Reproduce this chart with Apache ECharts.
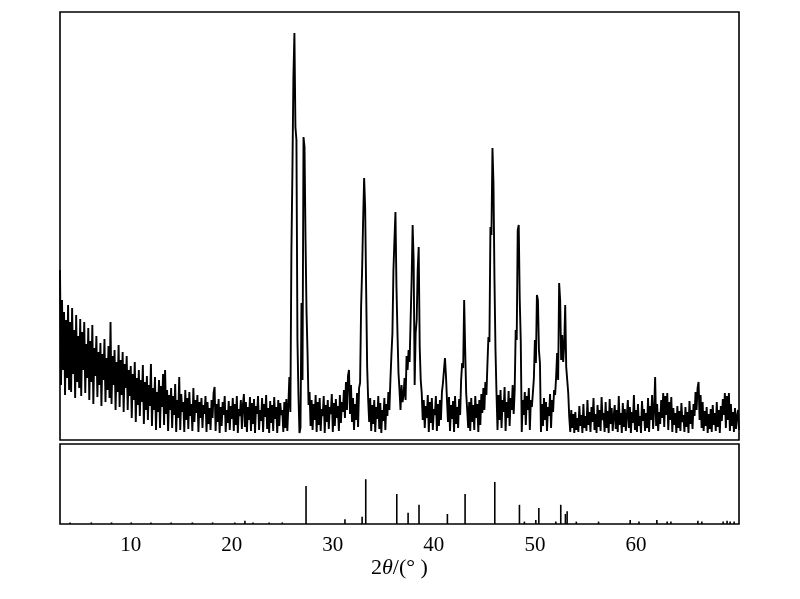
<!DOCTYPE html>
<html>
<head>
<meta charset="utf-8">
<script src="https://cdn.jsdelivr.net/npm/echarts@6/dist/echarts.min.js"></script>
<style>html,body{margin:0;padding:0;background:#fff}#c{width:800px;height:599px}</style>
</head>
<body>
<div id="c"></div>
<script>
// Measured XRD scan: 2theta from 3.0 deg in 0.1 deg steps (intensity, a.u.)
const scanStart = 3.0;
const scanStep = 0.1;
const intensity = [
 170,55,140,70,128,45,120,62,135,50,
 118,48,132,66,110,42,125,58,104,52,
 121,44,108,70,118,47,96,62,112,40,
 99,58,115,36,92,64,104,43,88,55,
 97,34,86,60,101,38,82,50,94,42,
 118,36,84,55,90,30,78,48,95,33,
 80,45,88,28,76,52,84,30,70,44,
 74,22,66,40,78,18,62,35,70,24,
 60,38,75,16,58,30,64,20,55,34,
 76,14,52,30,63,10,48,28,60,12,
 54,33,66,15,70,26,50,9,45,30,
 52,12,44,25,56,8,40,22,63,10,
 46,28,38,8,50,20,42,11,48,24,
 36,9,52,18,40,27,45,8,38,22,
 42,12,35,26,44,8,38,16,32,10,
 40,22,47,53,9,36,18,41,7,33,
 14,38,25,44,8,30,17,39,10,34,
 21,42,9,36,15,44,7,31,24,40,
 11,35,46,13,38,8,33,20,43,9,
 37,16,41,7,34,26,44,10,30,19,
 42,8,36,23,45,11,32,7,39,17,
 35,9,43,21,33,7,40,14,37,25,
 30,8,38,12,41,9,35,63,28,187,
 267,363,407,313,300,100,45,7,12,137,
 60,303,293,200,127,87,35,48,14,40,
 10,36,20,45,8,38,15,42,9,31,
 24,44,7,35,18,40,11,33,26,46,
 8,37,14,41,22,34,9,45,17,38,
 28,50,22,58,30,64,70,26,55,18,
 42,10,36,20,47,13,52,57,133,170,
 220,262,233,150,73,40,18,42,9,35,
 16,40,8,33,21,44,11,37,7,30,
 19,42,10,36,24,48,30,60,85,107,
 170,200,228,153,107,67,50,30,55,38,
 45,62,40,84,70,90,78,120,160,215,
 180,55,107,120,170,193,93,60,47,20,
 40,12,34,22,45,8,38,17,42,10,
 31,25,44,9,36,14,40,20,48,57,
 70,82,64,40,18,43,9,35,21,39,
 8,44,16,33,12,41,25,60,77,72,
 140,90,47,30,12,38,9,42,18,35,
 10,44,22,36,8,40,15,46,27,52,
 30,58,45,75,103,98,213,205,292,257,
 160,90,47,10,45,20,50,12,40,28,
 53,9,38,22,49,14,42,30,55,26,
 50,110,100,210,215,140,100,8,40,25,
 48,15,44,30,52,10,40,33,47,62,
 100,77,145,140,90,77,8,36,14,42,
 20,38,9,33,24,46,12,40,28,50,
 45,63,87,60,157,140,80,105,78,95,
 135,73,60,47,23,8,30,12,26,7,
 28,10,22,8,34,14,25,7,36,12,
 24,9,40,15,28,8,33,18,42,10,
 26,7,35,13,30,9,43,20,27,8,
 38,12,29,7,41,16,32,9,24,35,
 11,30,8,44,15,27,7,37,13,31,
 9,25,40,12,33,7,28,17,45,10,
 30,8,36,14,24,7,39,19,31,9,
 27,12,42,8,34,20,45,11,30,63,
 14,36,9,28,16,40,22,47,13,44,
 25,47,10,38,20,43,8,32,15,27,
 7,34,12,29,9,37,18,25,8,33,
 13,28,7,39,16,30,11,36,24,48,
 30,52,58,20,45,12,38,9,29,14,
 33,7,26,11,31,8,35,15,27,9,
 38,13,30,7,34,19,41,25,47,12,
 44,20,47,9,36,14,28,8,32,11,
 24,30,10
];

// Reference pattern sticks (2theta, relative intensity)
const refPos = [4.0,6.1,8.1,10.05,12.0,14.0,16.1,18.1,20.3,21.3,22.1,23.7,25.0,
  27.35,31.2,32.9,33.26,36.33,37.45,38.53,41.34,43.09,46.03,48.47,48.96,50.09,50.39,
  52.07,52.56,53.02,53.19,54.1,56.3,59.43,60.3,62.07,63.09,63.46,66.13,66.52,68.63,69.02,69.32,69.72];
const refInt = [2,2,2,2,2,2,2,2,2,4,2,2,2,
  47.5,6,9,56,37.5,14,24,12.5,37.5,52.5,24,3,5,20,
  3,24,12.5,16,3,3,5,3,5,3,3,4,3,3,4,3,3];

const xTicks = [10,20,30,40,50,60];
const xMin = 3.0, xMax = 70.2;

const scan = intensity.map((v, i) => [+(scanStart + i * scanStep).toFixed(2), v]);
const sticks = refPos.map((p, i) => [p, refInt[i]]);

const chart = echarts.init(document.getElementById('c'), null, {renderer: 'canvas'});
const serif = 'Liberation Serif, Times New Roman, serif';
chart.setOption({
  animation: false,
  backgroundColor: '#fff',
  grid: [
    {left: 60, right: 61, top: 12, height: 428, show: true, borderColor: '#000', borderWidth: 1.6, backgroundColor: 'transparent'},
    {left: 60, right: 61, top: 444, height: 80, show: true, borderColor: '#000', borderWidth: 1.6, backgroundColor: 'transparent'}
  ],
  xAxis: [
    {type: 'value', gridIndex: 0, min: xMin, max: xMax, axisLine: {show: false}, axisTick: {show: false}, axisLabel: {show: false}, splitLine: {show: false}},
    {type: 'value', gridIndex: 1, min: xMin, max: xMax, axisLine: {show: false}, axisTick: {show: false},
      splitLine: {show: false},
      axisLabel: {customValues: xTicks, fontFamily: serif, fontSize: 21, color: '#000', margin: 11},
      name: '{n|2}{i|θ}{n|/(° )}', nameLocation: 'middle', nameGap: 33,
      nameTextStyle: {rich: {
        n: {fontFamily: serif, fontSize: 22, color: '#000'},
        i: {fontFamily: serif, fontSize: 22, fontStyle: 'italic', color: '#000'}
      }}
    }
  ],
  yAxis: [
    {type: 'value', gridIndex: 0, min: 0, max: 428, show: false},
    {type: 'value', gridIndex: 1, min: 0, max: 100, show: false}
  ],
  series: [
    {type: 'line', xAxisIndex: 0, yAxisIndex: 0, data: scan, showSymbol: false, symbol: 'none',
      lineStyle: {color: '#000', width: 1.9, join: 'miter', miterLimit: 2}, silent: true, clip: true},
    {type: 'bar', xAxisIndex: 1, yAxisIndex: 1, data: sticks, barWidth: 1.6,
      itemStyle: {color: '#000'}, silent: true}
  ]
});
</script>
</body>
</html>
